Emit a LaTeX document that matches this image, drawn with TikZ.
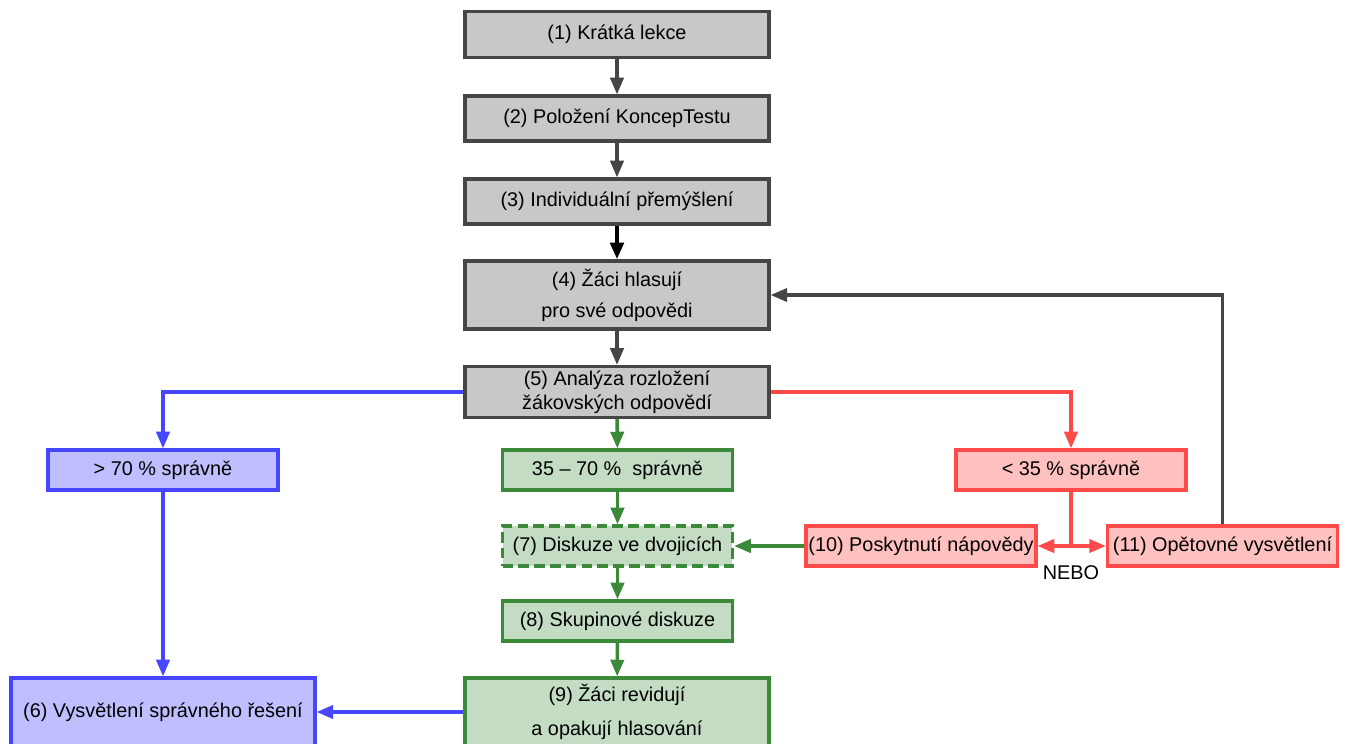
\documentclass[tikz,border=0pt]{standalone}
\usepackage{fontspec}
\setmainfont{Liberation Sans}
\usetikzlibrary{arrows.meta}
\definecolor{greyfill}{HTML}{C8C8C8}
\definecolor{greyline}{HTML}{454545}
\definecolor{bluefill}{HTML}{BFBFFF}
\definecolor{blueline}{HTML}{4646FF}
\definecolor{greenfill}{HTML}{C3DCC3}
\definecolor{greenline}{HTML}{3A8A3A}
\definecolor{redfill}{HTML}{FFC0C0}
\definecolor{redline}{HTML}{FF4A4A}
\begin{document}
\begin{tikzpicture}[
  x=0.02cm, y=-0.02cm,
  font=\fontsize{11.3}{13.6}\selectfont,
  stage/.style={draw, line width=1.8pt, align=center, inner sep=1pt,
                minimum height=0.92cm},
  wide/.style={stage, minimum width=6.08cm},
  narrow/.style={stage, minimum width=4.6cm, minimum height=0.8cm},
  tall/.style={wide, minimum height=1.36cm},
  grey/.style={fill=greyfill, draw=greyline},
  blue/.style={fill=bluefill, draw=blueline},
  green/.style={fill=greenfill, draw=greenline},
  red/.style={fill=redfill, draw=redline},
  link/.style={draw, line width=2pt, -{Triangle[length=9.5pt,width=7.5pt]}}
]
\useasboundingbox (0,0) rectangle (1347,744);

% main column
\node[wide, grey] (lecture) at (617,34.5) {(1) Krátká lekce};
\node[wide, grey, minimum height=0.9cm] (test) at (617,118.5) {(2) Položení KoncepTestu};
\node[wide, grey, minimum height=0.9cm] (think) at (617,201.5) {(3) Individuální přemýšlení};
\node[tall, grey] (vote) at (617,295) {(4) Žáci hlasují\\[4pt]pro své odpovědi};
\node[wide, grey, minimum height=1.02cm] (analysis) at (617,392) {(5) Analýza rozložení\\žákovských odpovědí};

% result row
\node[narrow, blue] (high) at (163,470) {> 70 \% správně};
\node[narrow, green] (middle) at (617.5,470) {35 – 70 \%\ \ správně};
\node[narrow, red] (low) at (1071,470) {< 35 \% správně};

% green column
\node[narrow, green, dash pattern=on 6pt off 3pt] (pairs) at (617.5,546) {(7) Diskuze ve dvojicích};
\node[narrow, green] (groups) at (617.5,621) {(8) Skupinové diskuze};
\node[tall, green] (revote) at (617,712) {(9) Žáci revidují\\[6pt]a opakují hlasování};

% blue and red boxes
\node[tall, blue] (solution) at (163,712) {(6) Vysvětlení správného řešení};
\node[narrow, red] (hint) at (921,546) {(10) Poskytnutí nápovědy};
\node[narrow, red] (explain) at (1222.5,546) {(11) Opětovné vysvětlení};

\coordinate (split) at (1071,546);
\node (or) at (1071,573) {NEBO};

% grey arrows
\foreach \a/\b in {lecture/test, test/think, vote/analysis}
  \draw[link, greyline] (\a) -- (\b);
\draw[link, black, line width=2.4pt] (think) -- (vote);
\draw[link, greyline] (explain.north) |- (vote.east);

% green arrows
\foreach \a/\b in {analysis/middle, middle/pairs, pairs/groups, groups/revote}
  \draw[link, greenline] (\a) -- (\b);
\draw[link, greenline] (hint) -- (pairs);

% blue arrows
\draw[link, blueline] (analysis.west) -| (high.north);
\draw[link, blueline] (high) -- (solution);
\draw[link, blueline] (revote) -- (solution);

% red arrows
\draw[link, redline] (analysis.east) -| (low.north);
\draw[line width=2pt, redline] (low) -- (split);
\draw[link, redline] (split) -- (hint);
\draw[link, redline] (split) -- (explain);
\end{tikzpicture}
\end{document}
